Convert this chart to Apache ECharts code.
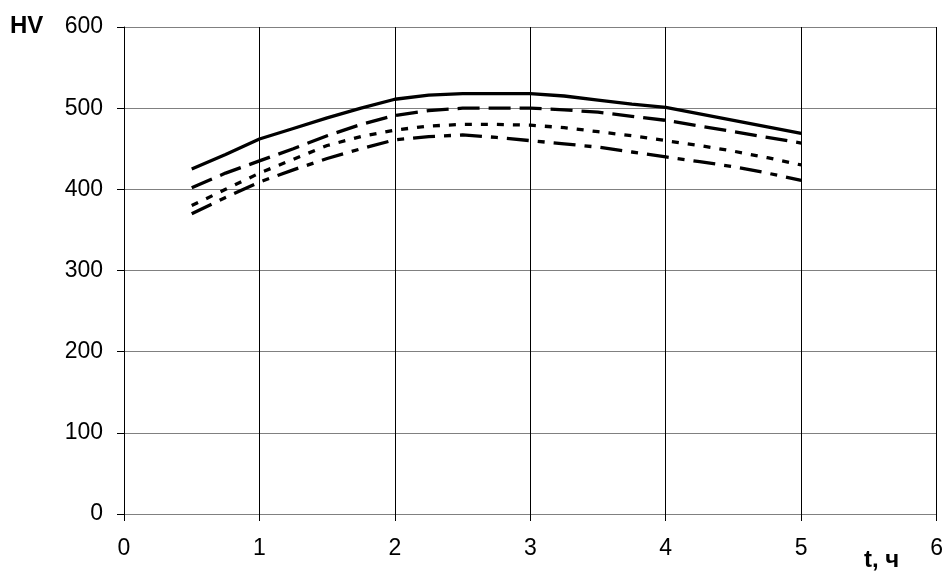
<!DOCTYPE html>
<html><head><meta charset="utf-8">
<script src="https://cdn.jsdelivr.net/npm/echarts@6/dist/echarts.min.js"></script>
<style>html,body{margin:0;padding:0;background:#fff}#c{width:946px;height:574px}</style>
</head><body><div id="c"></div>
<script>
const tValues = [0.5, 0.75, 1, 1.25, 1.5, 1.75, 2, 2.25, 2.5, 2.75, 3, 3.25, 3.5, 3.75, 4, 4.25, 4.5, 4.75, 5];
const hvSolid   = [425, 443, 462, 475, 488, 500, 511, 516, 518, 518, 518, 515, 510, 505, 501, 493, 485, 477, 469];
const hvDash    = [402, 420, 435, 450, 466, 480, 491, 497, 500, 500, 500, 498, 495, 490, 485, 478, 471, 464, 457];
const hvDot     = [380, 400, 420, 437, 454, 465, 473, 478, 480, 480, 479, 476, 471, 466, 460, 454, 447, 439, 430];
const hvDashDot = [370, 390, 409, 424, 438, 450, 461, 465, 467, 464, 460, 456, 452, 446, 440, 434, 428, 420, 411];
const xTicks = [0, 1, 2, 3, 4, 5, 6];
const yTicks = [0, 100, 200, 300, 400, 500, 600];

const pair = arr => tValues.map((t, i) => [t, arr[i]]);
const FONT = "'Liberation Sans', Arial, sans-serif";
const mk = (name, arr, type) => ({
  name, type: 'line', data: pair(arr), symbol: 'none', smooth: false,
  lineStyle: { color: '#000', width: 3.3, type: type }, z: 5
});
const chart = echarts.init(document.getElementById('c'), null, { renderer: 'canvas' });
chart.setOption({
  animation: false,
  backgroundColor: '#fff',
  grid: { left: 124, right: 9, top: 27, bottom: 60 },
  xAxis: {
    type: 'value', min: xTicks[0], max: xTicks[xTicks.length - 1], interval: 1,
    axisLine: { show: true, lineStyle: { color: '#808080', width: 1 } },
    axisTick: { show: true, inside: false, length: 7, lineStyle: { color: '#000' } },
    axisLabel: { color: '#000', fontSize: 23, fontFamily: FONT, margin: 23 },
    splitLine: { show: true, lineStyle: { color: '#000', width: 1 } }
  },
  yAxis: {
    type: 'value', min: yTicks[0], max: yTicks[yTicks.length - 1], interval: 100,
    axisLine: { show: true, lineStyle: { color: '#000', width: 1 } },
    axisTick: { show: true, inside: false, length: 7, lineStyle: { color: '#000' } },
    axisLabel: { color: '#000', fontSize: 23, fontFamily: FONT, margin: 21 },
    splitLine: { show: true, lineStyle: { color: '#808080', width: 1 } }
  },
  series: [
    mk('s1', hvSolid, 'solid'),
    mk('s2', hvDash, [22, 9]),
    mk('s3', hvDot, [7, 9]),
    mk('s4', hvDashDot, [22, 9, 7, 9])
  ],
  graphic: [
    { type: 'text', left: 10, top: 14, style: { text: 'HV', font: "bold 24px " + FONT, fill: '#000' } },
    { type: 'text', left: 864, top: 548, style: { text: 't, ч', font: "bold 24px " + FONT, fill: '#000' } }
  ]
});
</script></body></html>
